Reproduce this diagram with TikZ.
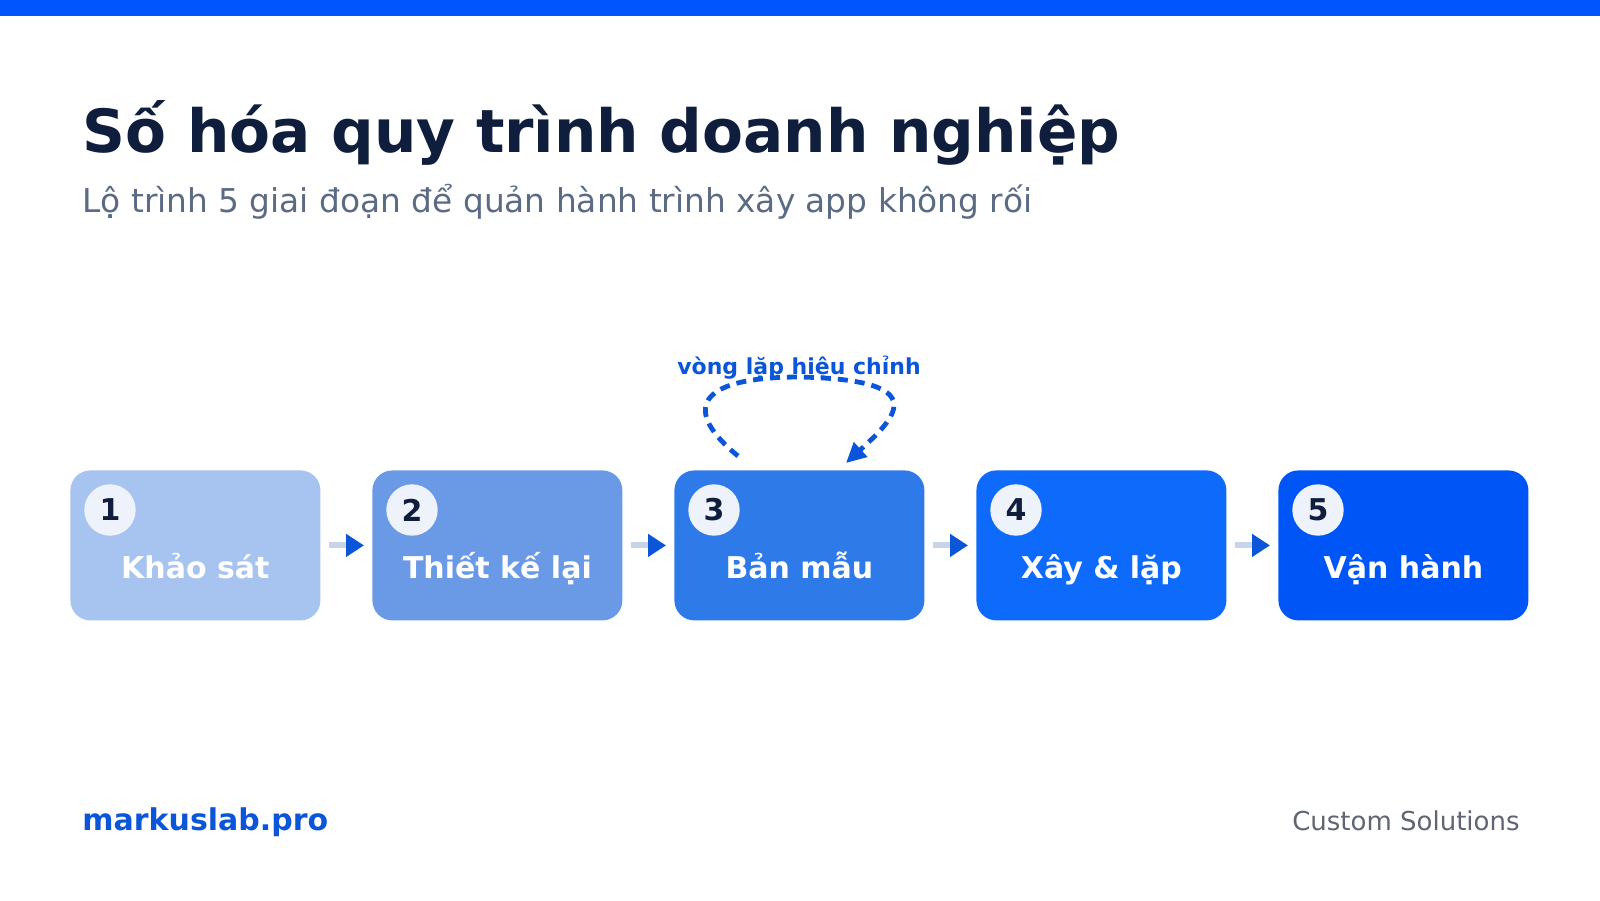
\documentclass[tikz,border=0pt]{standalone}
\usepackage{fontspec}
\setmainfont{DejaVu Sans}
\usetikzlibrary{arrows.meta}
\definecolor{topbar}{HTML}{0055FF}
\definecolor{titlecol}{HTML}{0F1E3C}
\definecolor{subcol}{HTML}{5B6B84}
\definecolor{accent}{HTML}{0A55D8}
\definecolor{footgray}{HTML}{5F6673}
\definecolor{linkcol}{HTML}{C8D4EA}
\definecolor{circfill}{HTML}{EEF3FB}
\definecolor{cA}{HTML}{A7C3F0}
\definecolor{cB}{HTML}{6A9AE5}
\definecolor{cC}{HTML}{2F7AE9}
\definecolor{cD}{HTML}{0D6AFB}
\definecolor{cE}{HTML}{0055F7}
\tikzset{
  stagebox/.style={rounded corners=10pt, minimum width=125pt, minimum height=75pt, inner sep=0pt, anchor=north west},
  numcirc/.style={circle, fill=circfill, minimum size=25.7pt, inner sep=0pt, font=\bfseries\fontsize{15}{15}\selectfont, text=titlecol},
  stagelabel/.style={anchor=base, font=\bfseries\fontsize{15}{15}\selectfont, text=white, inner sep=0pt},
  linkarrow/.style={draw=linkcol, line width=3pt, -{Triangle[length=9pt, width=11pt, color=accent]}},
  loopline/.style={draw=accent, line width=2.4pt, dash pattern=on 5pt off 3.5pt, -{Triangle[length=10pt, width=9.5pt, color=accent]}}
}
\begin{document}
\begin{tikzpicture}[x=0.5pt, y=-0.5pt]
\useasboundingbox (0,0) rectangle (1600,900);
\fill[white] (0,0) rectangle (1600,900);
\fill[topbar] (0,0) rectangle (1600,16);

\node[anchor=base west, inner sep=0pt, text=titlecol, font=\bfseries\fontsize{29.8}{30}\selectfont] (title) at (82,152) {Số hóa quy trình doanh nghiệp};
\node[anchor=base west, inner sep=0pt, text=subcol, font=\fontsize{16.4}{16.5}\selectfont] (subtitle) at (82,212) {Lộ trình 5 giai đoạn để quản hành trình xây app không rối};

\foreach \i/\xx/\col/\lab in {1/70/cA/Khảo sát, 2/372/cB/Thiết kế lại, 3/674/cC/Bản mẫu, 4/976/cD/Xây \& lặp, 5/1278/cE/Vận hành}{
  \node[stagebox, fill=\col] (b\i) at (\xx,470) {};
  \node[numcirc] (n\i) at ([xshift=20pt, yshift=-20pt]b\i.north west) {\i};
  \node[stagelabel] (l\i) at ([yshift=-16.5pt]b\i.center) {\lab};
}
\foreach \a/\b in {1/2, 2/3, 3/4, 4/5}{
  \draw[linkarrow] ([xshift=4pt]b\a.east) -- ([xshift=-4pt]b\b.west);
}

\coordinate (loopA) at (738,456);
\coordinate (loopTop) at (800,377);
\coordinate (loopB) at (846,463);
\draw[loopline] (loopA) .. controls (684,412) and (692,377) .. (loopTop) .. controls (935,380) and (895,418) .. (loopB);
\node[anchor=base, inner sep=0pt, text=accent, font=\bfseries\fontsize{11}{11}\selectfont] (looplabel) at (799,374) {vòng lặp hiệu chỉnh};

\node[anchor=base west, inner sep=0pt, text=accent, font=\bfseries\fontsize{15}{15}\selectfont] (brand) at (82,830) {markuslab.pro};
\node[anchor=base east, inner sep=0pt, text=footgray, font=\fontsize{13}{13}\selectfont] (tagline) at (1520,830) {Custom Solutions};
\end{tikzpicture}
\end{document}
